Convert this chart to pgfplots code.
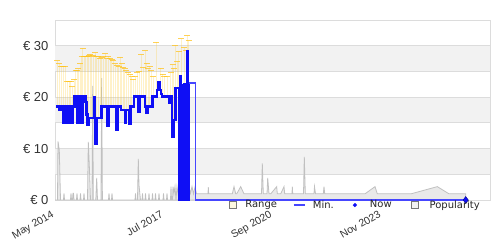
\documentclass[border=0pt]{standalone}
\usepackage{fontspec}
\setmainfont{Liberation Sans}
\newfontfamily\legfont{DejaVu Sans}
\usepackage{pgfplots}
\pgfplotsset{compat=1.18}
\usepackage{pgfplotstable}
\definecolor{gridc}{HTML}{DCDCDC}
\definecolor{bandc}{HTML}{F2F2F2}
\definecolor{labelc}{HTML}{333333}
\definecolor{barc}{RGB}{255,205,50}
\definecolor{capc}{RGB}{255,195,30}
\definecolor{minc}{RGB}{15,15,245}
\definecolor{minlight}{RGB}{70,70,255}
\definecolor{popline}{HTML}{C0C0C0}
\definecolor{popfill}{HTML}{E9E9E9}
\definecolor{rangeleg}{HTML}{FDF8E0}
\definecolor{legborder}{HTML}{777777}

\pgfplotstableread{
px lo hi
57 18.2 27.1
59 17.5 26.5
61 18.2 26
63 15 26
65 18.2 26
67 15 23
69 18.2 23
70.5 15 23
72 15 22
74 18.2 23.5
75.5 20.1 25.1
77 20.1 25.1
78 15 25.5
80 20.1 26.6
81.5 20.1 28
82.7 20.1 29.5
84 20.1 28
85.5 19 27.9
87 16.5 28
88.5 16 28.1
90 16 28.3
91.5 16 28
93 16 28.1
95 16 28.6
96.5 16 28
98 16 27.9
100 16 27.6
101.5 16 27.7
103 18 28
105 18 28.4
106.5 18 27.5
108 18 28
110 18 27.6
111.5 18 27.3
113 18 27.1
115 18 26.5
117 13.6 26.1
118.5 18 26
120 18 27.8
121.5 17.5 26.5
123 17.5 25.8
124.5 17.5 25.5
126 17.5 25.1
128 17.5 24.8
130 15 24.5
131.5 18 24
133 18 23.5
135 20 24
137 20 24.8
139 17 25
141 20 28.2
143 20 25.8
145 18 29
146.7 18 26.6
148 18 25.5
149.5 18 26
151 18 25.2
153 20 24
156.3 20 30.7
160.7 21 25.6
162.5 20 24.5
164 20 24.1
167.3 20 24.1
170.7 18.9 24.7
172.5 12.2 26.3
173.5 15.6 25.6
175.3 21.8 30.1
177 21.8 27
178.7 22 28.8
181.3 22.4 31.4
184 22.5 29.6
186 22.5 29
187.3 22.8 31.9
188.7 22.8 31
}\rangedata

\pgfplotstableread{
px v
56 18.2
59 17.5
61 18.2
63 15
64.5 18.2
66.5 15
68.5 18.2
70 15
72.5 18.2
74.5 20.1
77.5 15
79 20.1
81 15
82.5 20.1
85.5 19
86.5 16.6
87.5 14.6
88.5 16
92 16
94.5 20
95.3 10.9
96.5 16
101.5 18.2
107 14.4
108.5 18.2
116 13.6
117.5 18.2
121 17.5
125 15
126 17.5
129 14.9
130.5 18.2
134 20.1
138.5 17.1
139.5 20.1
145 18.2
146.5 17
147.5 18.2
152.5 20.1
157 21.4
158.5 23
160 21.4
161 20.6
162 20.1
169.5 18.9
170.5 20.1
172 12.2
174 15.6
175.5 21.8
179 0
180 24
181 0
182 22.4
183 0
184 22.5
185 0
186 22.5
187 29
188 0
189 22.8
189.01 22.8
}\mindata

\pgfplotstableread{
px v
189 22.8
195.5 0
465.7 0
}\minright

\pgfplotstableread{
px v
55 0
57.5 0
58 11.4
59.3 9.7
60.5 0
63.5 0
64 1.3
64.5 0
70.5 0
71 1.3
71.5 0
72.5 0
73 1.3
73.5 1.3
74 0
76.5 0
77 1.3
77.5 0
80 0
80.5 1.3
81 0
83.5 0
84 1.3
84.5 0
87.5 0
88.3 11.3
89.5 5.8
90.5 0
92 0
92.7 22.2
93.3 0
95.8 0
96.7 4.3
97.5 0
101 0
101.7 23.7
102.4 0
108.5 0
109 1.3
109.5 0
111.5 0
112 1.3
112.5 0
135 0
135.5 1.3
136 0
137.5 0
138.3 8
139 2.9
139.8 1.3
140.5 0
142 0
142.5 1.3
143 0
145 0
145.5 1.3
146 0
148.5 0
149 1.3
149.5 0
152 0
152.5 1.3
153 0
155 0
155.5 1.3
156 0
158.5 0
159 1.3
159.5 0
163 0
163.5 1.3
164 0
166.5 0
167 1.3
167.5 0
170.5 0
171 2.6
171.5 0
172.5 0
173 2.6
174 1.3
175 2.6
176 0
177 2.6
178 1.3
179 2.6
180 0
181 2.6
182.5 1.3
184 2.6
185 0
186.5 2.6
188 0
189 2.6
190.5 1.3
192 2.6
193.5 1.2
195 2.5
196.5 1.2
208 1.2
208.3 2.5
208.7 1.2
232.3 1.2
234 2.6
235.7 1.2
236.7 1.2
240.7 2.6
244 1.2
261.5 1.2
262.3 7.1
263.3 1.2
267 1.2
267.7 4.3
269 1.2
270.7 1.2
276.7 2.6
277.3 1.2
280.7 1.2
284 2.6
284.7 1.2
292 1.2
292.3 2.6
292.7 1.2
303.5 1.2
304.3 8.4
305.3 1.2
314 1.2
314.5 2.6
315.5 1.2
323.3 1.2
324 2.6
324.7 1.2
365 1.2
375 2.6
377.3 1.2
411 1.2
437.3 2.6
449 1.2
465.7 1.2
}\popdata

\begin{document}
\begin{tikzpicture}
\begin{axis}[
  at={(55pt,50pt)}, anchor=south west,
  scale only axis, width=435pt, height=180pt,
  xmin=55, xmax=490, ymin=0, ymax=35,
  clip=false,
  axis line style={draw=gridc},
  tick style={draw=none},
  ytick={0,10,20,30},
  yticklabels={€ 0,€ 10,€ 20,€ 30},
  minor ytick={5,15,25},
  ymajorgrids, yminorgrids,
  major grid style={gridc, line width=0.8pt},
  minor grid style={gridc, line width=0.8pt},
  yticklabel style={font=\fontsize{13}{15}\selectfont, text=labelc, xshift=-3pt},
  xtick={55,164,273,382},
  xticklabels={May 2014,Jul 2017,Sep 2020,Nov 2023},
  xticklabel style={font=\fontsize{10.5}{12}\selectfont, text=labelc, rotate=30, anchor=north east, xshift=-5pt, yshift=-3pt},
  legend style={at={(0.3993,-0.028)}, anchor=west, draw=none, fill=none, inner sep=0pt,
    font=\legfont\fontsize{10}{12}\selectfont, text=black!85,
    /tikz/every even column/.append style={column sep=14pt}},
  legend columns=4,
]
\fill[bandc] (axis cs:55,5.08) rectangle (axis cs:490,9.92);
\fill[bandc] (axis cs:55,15.08) rectangle (axis cs:490,19.92);
\fill[bandc] (axis cs:55,25.08) rectangle (axis cs:490,29.92);

\addplot[forget plot, draw=popline, fill=popfill, line width=0.8pt] table[x=px,y=v] {\popdata} \closedcycle;

\addplot[forget plot, draw=none, mark=none,
  error bars/.cd, y dir=plus, y explicit, error mark=|,
  error bar style={draw=barc, line width=1pt, opacity=0.27},
  error mark options={mark size=3pt, line width=1pt, draw=capc, opacity=0.75}]
  table[x=px, y=lo, y error plus expr=\thisrow{hi}-\thisrow{lo}] {\rangedata};

\addplot[forget plot, const plot, mark=none, draw=minc, line width=2.3pt] table[x=px,y=v] {\mindata};
\addplot[forget plot, const plot, mark=none, draw=minlight, line width=1.7pt] table[x=px,y=v] {\minright};
\addplot[forget plot, only marks, mark=diamond*, mark size=3.5pt, mark options={fill=minc, draw=minc!60!black}] coordinates {(465.7,0)};

\addlegendimage{legend image code/.code={\draw[fill=rangeleg, draw=legborder, line width=0.8pt] (0pt,-3.3pt) rectangle (6.6pt,3.3pt); \path[draw=none] (0pt,0pt) -- (14pt,0pt);}}
\addlegendentry{Range}
\addlegendimage{legend image code/.code={\draw[minlight, line width=2pt] (0pt,0pt) -- (10.7pt,0pt); \path[draw=none] (0pt,0pt) -- (17pt,0pt);}}
\addlegendentry{Min.}
\addlegendimage{legend image code/.code={\path[draw=none] (0pt,0pt) -- (18pt,0pt); \fill[minc, draw=none] (5pt,0pt) +(0,2.2pt) -- +(2.2pt,0) -- +(0,-2.2pt) -- +(-2.2pt,0) -- cycle;}}
\addlegendentry{Now}
\addlegendimage{legend image code/.code={\draw[fill=bandc, draw=legborder, line width=0.8pt] (4pt,-3.3pt) rectangle (10.6pt,3.3pt); \path[draw=none] (0pt,0pt) -- (20pt,0pt);}}
\addlegendentry{Popularity}
\end{axis}
\pgfresetboundingbox
\path[use as bounding box] (0,0) rectangle (500pt,250pt);
\end{tikzpicture}
\end{document}
